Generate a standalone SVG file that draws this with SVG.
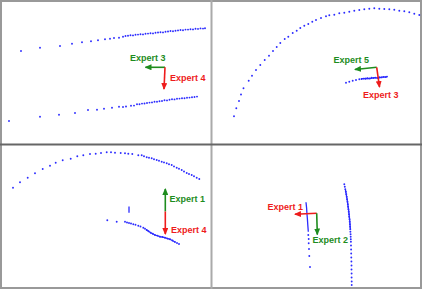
<svg xmlns="http://www.w3.org/2000/svg" width="423" height="290" viewBox="0 0 423 290">
<style>
.pts{fill:none;stroke:none;marker-start:url(#dot);marker-mid:url(#dot);marker-end:url(#dot)}
.dense{fill:none;stroke:#2b2bff;stroke-width:1.3}
.g{stroke:#1e8c1e;stroke-width:1.6;fill:none;marker-end:url(#ag)}
.r{stroke:#ee1c1c;stroke-width:1.6;fill:none;marker-end:url(#ar)}
text{font-family:"Liberation Sans",Arial,sans-serif;font-size:9px;font-weight:bold}
.tg{fill:#1e8c1e}
.tr{fill:#ee1c1c}
.frame{fill:none;stroke:#999;stroke-width:2}
</style>
<defs>
<marker id="dot" markerUnits="userSpaceOnUse" markerWidth="4" markerHeight="4" refX="2" refY="2" viewBox="0 0 4 4"><circle cx="2" cy="2" r="0.95" fill="#2b2bff"/></marker>
<marker id="ag" markerUnits="userSpaceOnUse" markerWidth="7" markerHeight="6" refX="6" refY="3" orient="auto" viewBox="0 0 7 6"><path d="M0,0 L7,3 L0,6 Z" fill="#1e8c1e"/></marker>
<marker id="ar" markerUnits="userSpaceOnUse" markerWidth="7" markerHeight="6" refX="6" refY="3" orient="auto" viewBox="0 0 7 6"><path d="M0,0 L7,3 L0,6 Z" fill="#ee1c1c"/></marker>
</defs>
<rect width="423" height="290" fill="#fff"/>
<g id="frame">
<rect class="frame" x="1" y="1" width="420" height="287"/>
<line x1="211.5" y1="0" x2="211.5" y2="289" stroke="#aaa" stroke-width="2"/>
<line x1="0" y1="144.5" x2="422" y2="144.5" stroke="#666" stroke-width="2"/>
</g>
<g id="panel1">
<polyline class="pts" points="21,51 40,47.7 60,46 72,43.7 82,42.3 91,41.3 98,40.3 105,39.3 110,38.7 114,38 119,37.7 123,36.7 125.5,36.0 128,35.8 130.5,35.3 133,35.4 135.5,34.8 138,34.6 140.5,34.2 143,34.4 145.5,33.8 148,33.6 150.5,33.2 153,33.4 155.5,32.7 158,32.5 160.5,32.2 163,32.4 165.5,31.7 168,31.5 170.5,31.0 173,31.2 175.5,30.7 178,30.4 180.5,30.0 183,30.3 185.5,29.6 188,29.6 190.5,29.2 193,29.4 195.5,28.8 198,28.9 200.5,28.4 203,28.6 205,28.2"/>
<polyline class="pts" points="9,121 40,116.7 59,114.7 75,113 88,110 97,109.7 104,108.7 112,107.7 119,106.7 123,107 126,106.5 131,105.7 134,105.6 137,104.3 139.5,104.2 142,103.6 144.5,103.5 147,103 149.5,102.6 152,102.4 154.5,101.8 157,101.8 159.5,101.2 162,101 164.5,100.3 167,100.4 169.5,99.8 172,99.3 174.5,99.4 177,98.8 179.5,98.6 182,98.2 184.5,98.3 187,97.7 189.5,97.6 192,97.2 194.5,97.0 197,96.6"/>
</g>
<g id="panel2">
<polyline class="pts" points="234,116.3 236.3,108.3 239,101 241,94.5 243.5,88.3 248.7,80.7 252,75.7 256,70 260.3,65 264.7,60 269,55.7 273,51 276.7,47 280.3,43 284.7,39 288.3,36.7 292.7,33 296.7,30.7 300.3,28 304.3,25.7 308.3,24 312.3,21.7 316,20 321,18 326,16.3 329.3,15.3 334.3,14.7 339.3,13.3 344.3,12.7 349.3,11.7 354.3,10.7 359.3,10 364.3,9.3 369.3,8.7 374.3,8.3 379.3,8.7 384.3,9 389.3,9.3 394.3,9.7 399.3,10.7 404.3,11.3 409.3,12.3 414.3,13.7 419.3,15"/>
<polyline class="pts" points="346,82.7 349.3,81.7 352.7,80.7 356,80 359.3,79.3 361.5,79 363.5,78.6 365.5,78.8 367.5,78.2 369.5,78.4 371.5,77.8 373.5,78.1 375.5,77.6 377.5,77.9 379.5,77.2 381.5,77.4 383.5,76.9 385.5,77.1 387,76.6"/>
<path class="dense" d="M361,78.9 L366,78.3 L370,78.6 L374,77.6 L378,78.1 L382,77.1 L387,76.8"/>
</g>
<g id="panel3">
<polyline class="pts" points="13,187.7 20,182.3 27.7,177.7 35,173.3 42.7,169 50,165.7 55.7,162.7 62.7,160.3 70.7,158.7 77.3,156.3 83.3,155.3 90,154 95.7,153.7 101,153 106.7,152.3 111,152.3 115,152.7 120.7,153 125,153.3 128.3,153.7 132.3,154 138.3,155.3 141.7,155.3 144,156.3 146.7,157.3 149,157.7 151.7,158.3 154,159.3 156.7,160 159,160.8 161.7,161.7 164,162.4 166.7,163.3 169,164.2 171.7,165 174,166.4 176.7,167.7 179,168.8 181.7,170 184,171.5 186.7,173 189,174 191.7,175 194,176.3 196.7,177.7 199.3,179"/>
<line class="dense" x1="129" y1="206.5" x2="129" y2="212.8" stroke-width="1.5"/>
<polyline class="pts" points="107.3,220.3 116.7,221.7 125,221.7 127,222.5 129,223 131,223.5 133.3,224.3 135.5,224.7 138.3,225.7 140.5,226.5 143.3,227.7 145,228.8 146.7,230 148.5,231.2 150.7,232.7 152.8,233.8 155,235 157.5,235.6 160,236.7 162.5,237 165,237.7 167.5,238.6 170,239.3 172.5,240.5 175,242 177,243 179,244"/>
<path class="dense" d="M146,229.5 L150.7,232.7 L155,235 L160,236.7 L165,237.7 L170,239.3 L175,242" stroke-width="0.6"/>
</g>
<g id="panel4">
<path class="dense" d="M306,202.3 L306.6,208 L306.9,213 L307.4,219 L307.8,225 L308.3,231.7" stroke-width="1.6"/>
<polyline class="pts" points="308.3,235 308.7,239 308.7,243.3 309,249 309.3,256 310,267"/>
<polyline class="pts" points="344.3,184.3 344.8,186.8 345.3,189.3 345.8,191.8 346.3,194.3 346.7,196.8 347.1,199.3 347.5,201.8 347.8,204.3 348.1,206.8 348.4,209.3 348.7,211.8 349,214.3 349.2,216.8 349.5,219.3 349.7,221.8 349.9,224.3 350.1,226.8 350.3,229.3 350.4,231.8 350.6,234.3 350.7,236.8 350.8,239.3 350.9,241.8 351,245.5 351.1,249.5 351.2,253.5 351.3,257.5 351.4,261.5 351.5,265.5 351.5,269.5 351.6,273.5 351.6,277.5 351.7,281.5 351.7,285"/>
<path class="dense" d="M345.5,190 L347.2,200 L348.6,210 L349.7,220 L350.4,230" stroke-width="0.8"/>
</g>
<g id="connectors">
<line class="g" x1="165" y1="67.3" x2="145.5" y2="67.3"/>
<line class="r" x1="165" y1="67.3" x2="164" y2="89"/>
<line class="g" x1="376.7" y1="67.3" x2="355" y2="69.5"/>
<line class="r" x1="376.7" y1="67.3" x2="379.5" y2="87"/>
<line class="g" x1="165.3" y1="211.5" x2="165.3" y2="189"/>
<line class="r" x1="165.3" y1="211.5" x2="165.3" y2="234"/>
<line class="r" x1="316.7" y1="213.3" x2="295" y2="214.3"/>
<line class="g" x1="316.7" y1="213.3" x2="317.3" y2="234.5"/>
</g>
<g id="labels">
<text class="tg" x="130" y="60.5">Expert 3</text>
<text class="tr" x="170" y="80.5">Expert 4</text>
<text class="tg" x="333.5" y="63">Expert 5</text>
<text class="tr" x="363" y="97.5">Expert 3</text>
<text class="tg" x="169.5" y="202">Expert 1</text>
<text class="tr" x="171" y="232.5">Expert 4</text>
<text class="tr" x="267.5" y="210">Expert 1</text>
<text class="tg" x="312.5" y="243">Expert 2</text>
</g>
</svg>
